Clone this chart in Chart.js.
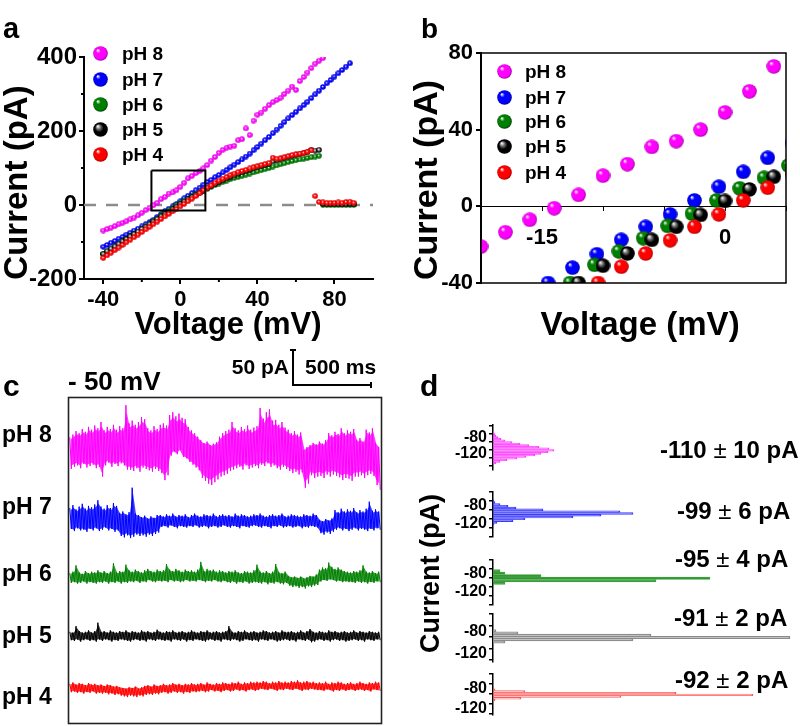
<!DOCTYPE html>
<html><head><meta charset="utf-8">
<script src="https://cdn.jsdelivr.net/npm/chart.js@4/dist/chart.umd.min.js"></script>
<style>
html,body{margin:0;padding:0;background:#fff;}
#wrap{position:relative;width:800px;height:726px;overflow:hidden;background:#fff;}
#wrap canvas{position:absolute;left:0;top:0;}
.t{position:absolute;white-space:nowrap;font-family:'Liberation Sans',Arial,Helvetica,sans-serif;font-weight:bold;color:#000;}
.t .pm{font-weight:normal;}
.sph{position:absolute;}
</style></head><body>
<div id="wrap">
<canvas id="cA" width="800" height="726"></canvas>
<canvas id="cB" width="800" height="726"></canvas>
<canvas id="cC" width="800" height="726"></canvas>
<canvas id="cD0" width="800" height="726"></canvas>
<canvas id="cD1" width="800" height="726"></canvas>
<canvas id="cD2" width="800" height="726"></canvas>
<canvas id="cD3" width="800" height="726"></canvas>
<canvas id="cD4" width="800" height="726"></canvas>
</div>
<script>
// ================= DATA =================
const phLabels = ['pH 8', 'pH 7', 'pH 6', 'pH 5', 'pH 4'];

// ---- panel a: I-V curves (mV, pA) ----
const voltsA = [-40,-38,-36,-34,-32,-30,-28,-26,-24,-22,-20,-18,-16,-14,-12,-10,-8,-6,-4,-2,0,2,4,6,8,10,12,14,16,18,20,22,24,26,28,30,32,34,36,38,40,42,44,46,48,50,52,54,56,58,60,62,64,66,68,70,72,74,76,78,80,82,84,86,88,90];
const iA_pH8 = [-69,-65,-61,-57,-52,-48,-44,-39,-34,-28,-21,-14,-7,-1,6,16,22,31,34,40,49,60,72,79,86,92,99,108,120,130,141,149,155,158,160,175,178,207,189,228,244,250,260,270,278,284,290,300,309,320,311,335,346,358,370,382,390,397];
const iA_pH7 = [-113,-108,-102,-97,-91,-86,-80,-75,-69,-64,-58,-52,-46,-40,-32,-25,-17,-10,-4,3,10,18,25,32,40,47,55,62,68,75,81,88,95,102,109,116,123,131,139,148,157,166,175,184,194,204,214,224,234,243,252,261,270,279,289,299,309,319,329,338,347,356,365,374,383];
const iA_pH6 = [-132,-126,-119,-112,-105,-98,-92,-85,-78,-72,-65,-58,-51,-44,-37,-28,-21,-14,-8,-1,5,11,17,23,29,34,39,44,49,54,58,62,66,70,73,76,79,82,85,88,91,94,97,100,104,107,110,113,116,119,121,123,125,127,129,131,133,1,0,0,0,0,0,0,1,0];
const iA_pH5 = [-132,-125,-118,-112,-105,-98,-92,-85,-79,-72,-65,-59,-52,-45,-38,-31,-25,-18,-11,-5,3,9,15,21,27,33,39,45,51,56,62,67,72,76,80,84,88,92,95,99,102,105,108,112,118,121,124,127,130,133,136,138,140,143,149,147,149,3,2,2,2,2,2,2,3,2];
const iA_pH4 = [-143,-136,-129,-122,-115,-108,-101,-94,-87,-80,-73,-66,-59,-52,-45,-38,-31,-24,-17,-11,-4,3,10,17,24,32,40,47,53,60,66,71,76,81,85,89,92,95,99,102,105,108,111,114,128,125,126,129,132,135,137,139,141,144,148,24,8,7,6,6,6,7,6,8,9,6];
const zeroLineV = [-50, 100], zeroLineI = [0, 0];
const zoomBoxV = [-15, 13, 13, -15, -15], zoomBoxI = [93, 93, -15, -15, 93];

// ---- panel b: zoom of the I-V curves ----
const bV_pH8 = [-20,-18,-16,-14,-12,-10,-8,-6,-4,-2,0,2,4];
const bI_pH8 = [-21,-13.5,-7,-1,6,16,22,31,34,40,49,60,73];
const bV_pH7 = [-14.5,-12.5,-10.5,-8.5,-6.5,-4.5,-2.5,-0.5,1.5,3.5,5.5];
const bI_pH7 = [-40,-32,-25,-17.5,-10.7,-4.2,3.1,10.2,18,25.3,33];
const bV_pH6 = [-12.7,-10.7,-8.7,-6.7,-4.7,-2.7,-0.7,1.2,3.2,5.2];
const bI_pH6 = [-40,-30.5,-23.5,-16.6,-10.2,-3.8,3.1,9.4,14.9,21.3];
const bV_pH5 = [-12,-10,-8,-6,-4,-2,0,2,4];
const bI_pH5 = [-40,-31,-24.6,-17.5,-10.7,-4.5,2.8,8.8,15.4];
const bV_pH4 = [-10.4,-8.5,-6.5,-4.5,-2.5,-0.5,1.5,3.5,5.5];
const bI_pH4 = [-40,-31.5,-24.6,-17.7,-10.7,-4.2,3.1,9.7,16.6];

// ---- panel c: current traces at -50 mV, per 20 ms bin: upper / lower excursion (pA, around the mean) ----
const traceBinMs = 20;
const c8Hi = [18,22,27,24,30,26,33,29,35,31,40,28,33,30,36,29,34,31,64,38,42,36,40,47,44,31,28,34,30,36,38,35,50,54,48,52,46,44,33,28,24,19,14,10,12,7,9,11,19,24,27,29,40,31,28,33,30,35,29,32,34,60,45,54,58,42,43,36,40,32,29,24,27,22,25,0,4,7,10,8,12,9,14,24,21,26,23,31,24,28,26,30,14,17,12,29,25,31,10,4];
const c8Lo = [-27,-24,-22,-26,-20,-25,-23,-21,-26,-24,-38,-22,-18,-24,-20,-23,-19,-22,-28,-28,-30,-26,-31,-25,-27,-29,-31,-27,-30,-33,-43,-36,-8,-2,-6,0,-10,-12,-17,-21,-25,-29,-40,-44,-48,-50,-46,-42,-38,-36,-34,-30,-28,-26,-24,-28,-22,-27,-25,-23,-26,-21,-23,-19,-24,-22,-26,-28,-24,-27,-30,-33,-31,-35,-32,-54,-48,-36,-40,-38,-37,-40,-35,-38,-35,-37,-39,-43,-40,-41,-44,-38,-38,-36,-40,-36,-34,-37,-50,-57];
const c7Hi = [20,24,18,22,26,19,23,21,25,31,22,19,24,20,27,23,13,15,11,14,49,12,10,7,9,5,8,6,10,10,8,11,9,12,8,10,9,11,7,10,12,9,8,11,10,9,12,8,10,11,9,10,8,12,9,11,10,8,9,11,10,12,9,8,10,11,9,10,12,8,9,11,10,9,8,11,10,9,12,10,3,1,4,2,5,17,14,19,15,18,16,20,14,17,15,19,29,16,18,15];
const c7Lo = [-10,-13,-9,-12,-11,-14,-10,-12,-9,-13,-11,-8,-12,-10,-14,-12,-20,-22,-19,-23,-21,-18,-20,-19,-21,-18,-20,-17,-15,-7,-6,-8,-5,-7,-9,-6,-7,-8,-6,-7,-5,-8,-7,-6,-9,-7,-6,-8,-7,-5,-7,-8,-6,-7,-9,-6,-7,-8,-6,-5,-7,-8,-6,-7,-9,-6,-7,-5,-8,-7,-6,-8,-7,-6,-9,-7,-8,-6,-7,-8,-16,-18,-15,-17,-14,-11,-9,-12,-10,-13,-11,-9,-12,-10,-11,-13,-10,-12,-9,-11];
const c6Hi = [7,9,18,8,6,10,7,9,8,11,8,10,7,9,21,8,10,9,19,11,9,12,10,8,11,13,10,9,12,10,11,20,12,10,13,11,9,12,10,11,9,12,23,10,13,11,12,9,11,10,8,10,9,11,8,7,10,9,8,11,19,9,8,10,7,9,20,8,7,9,3,1,2,0,2,-1,1,3,2,5,12,15,14,22,16,13,15,12,10,9,8,10,9,11,18,9,8,10,7,9];
const c6Lo = [-7,-6,-8,-7,-5,-8,-6,-7,-8,-6,-7,-5,-8,-6,-7,-5,-8,-6,-7,-5,-6,-4,-7,-5,-6,-3,-5,-6,-4,-5,-4,-6,-3,-5,-4,-6,-5,-3,-5,-4,-5,-3,-4,-6,-4,-5,-3,-5,-6,-4,-6,-7,-5,-8,-6,-7,-5,-8,-7,-6,-7,-8,-6,-9,-7,-8,-6,-8,-9,-7,-11,-13,-12,-14,-13,-15,-12,-13,-11,-10,-5,-3,-4,-2,-3,-5,-4,-6,-5,-6,-6,-7,-5,-7,-6,-8,-6,-7,-5,-6];
const c5Hi = [6,5,14,7,5,6,8,5,7,19,6,7,5,8,6,5,7,6,8,5,7,6,5,8,6,7,5,6,9,6,5,7,6,8,5,6,7,5,6,8,6,5,7,6,8,5,6,7,5,6,7,14,6,5,7,6,8,5,6,7,5,6,8,7,5,6,7,5,8,6,6,7,5,6,8,5,7,10,6,5,7,6,5,8,6,7,5,6,7,5,6,8,5,7,6,5,7,6,5,6];
const c5Lo = [-6,-7,-5,-8,-6,-5,-7,-6,-8,-5,-7,-5,-6,-8,-6,-7,-5,-6,-7,-8,-6,-5,-7,-6,-8,-5,-6,-7,-5,-6,-7,-6,-8,-5,-6,-7,-5,-8,-6,-7,-5,-6,-7,-8,-6,-5,-7,-6,-8,-5,-6,-7,-5,-6,-8,-7,-5,-6,-7,-6,-8,-5,-6,-7,-5,-6,-8,-7,-6,-5,-7,-6,-8,-5,-6,-7,-5,-9,-8,-6,-5,-7,-6,-8,-6,-5,-7,-6,-8,-7,-6,-5,-7,-6,-8,-5,-6,-7,-5,-6];
const c4Hi = [6,8,5,7,6,4,7,5,6,4,5,3,5,4,2,3,1,0,-1,1,0,2,-1,1,3,4,2,5,3,4,6,4,5,7,5,6,4,6,5,7,5,6,7,5,8,6,5,7,6,8,7,6,8,7,9,6,8,7,9,8,9,8,10,9,7,9,8,10,8,9,8,10,9,11,8,9,10,8,9,7,8,7,9,6,8,7,9,8,6,7,8,6,7,9,7,6,8,7,9,8];
const c4Lo = [-6,-5,-7,-6,-8,-6,-7,-5,-8,-7,-8,-7,-9,-8,-10,-9,-11,-12,-13,-11,-12,-13,-11,-12,-10,-9,-10,-8,-9,-7,-6,-8,-7,-5,-7,-6,-8,-6,-7,-5,-6,-5,-4,-6,-5,-3,-5,-4,-6,-4,-3,-5,-4,-2,-4,-3,-5,-3,-2,-4,-3,-1,-2,-3,-1,-2,-4,-2,-3,-1,-2,-3,-1,-2,-4,-2,-3,-1,-2,-3,-3,-4,-2,-3,-5,-3,-4,-2,-4,-3,-2,-4,-3,-2,-4,-3,-5,-2,-3,-4];
const traceMeans = ['-110 ± 10 pA', '-99 ± 6 pA', '-95 ± 4 pA', '-91 ± 2 pA', '-92 ± 2 pA'];

// ---- panel d: current histograms (bin centre pA, counts) ----
const hBins_pH8 = [-68,-72,-76,-80,-84,-88,-92,-96,-100,-104,-108,-112,-116,-120,-124,-128,-132,-136,-140,-144];
const hCnt_pH8  = [1,2,3,5,8,12,19,27,36,46,56,61,55,48,42,33,24,14,7,3];
const hBins_pH7 = [-70,-74,-78,-82,-86,-90,-94,-98,-102,-106,-110,-114,-118,-122];
const hCnt_pH7  = [1,2,7,15,23,50,127,140,108,80,32,20,4,1];
const hBins_pH6 = [-74,-79.5,-85,-90.5,-96,-101.5];
const hCnt_pH6  = [7,12,48,217,163,12];
const hBins_pH5 = [-79,-83,-87,-91,-95,-99];
const hCnt_pH5  = [3,25,158,297,140,12];
const hBins_pH4 = [-81.5,-85,-88.5,-92,-95.5,-99,-102.5];
const hCnt_pH4  = [2,32,183,260,128,28,2];

// ================= STYLE =================
const FONT = "'Liberation Sans', Arial, Helvetica, sans-serif";
Chart.defaults.font.family = FONT;
Chart.defaults.font.weight = 'bold';
Chart.defaults.color = '#000';
Chart.defaults.animation = false;

const phColors = ['#ff00ff', '#0000ff', '#008000', '#000000', '#ff0000'];
const phDark   = ['#a000a0', '#00009a', '#003c00', '#000000', '#a00000'];
const phFill   = ['rgba(255,0,255,0.8)', 'rgba(0,0,255,0.75)', 'rgba(0,128,0,0.75)', 'rgba(0,0,0,0.75)', 'rgba(255,0,0,0.75)'];
const histFill = ['rgba(255,0,255,0.42)', 'rgba(40,40,255,0.55)', 'rgba(0,140,0,0.42)', 'rgba(190,190,190,0.3)', 'rgba(255,60,60,0.18)'];
const histLine = ['#ff44ff', '#3a3aff', '#44a044', '#8a8a8a', '#ff5a5a'];

function sphere(k, d, small) {
  const c = document.createElement('canvas');
  c.width = d; c.height = d;
  const x = c.getContext('2d');
  const r = d / 2;
  const g = small ? x.createRadialGradient(r * 0.85, r * 0.8, 0, r, r, r)
                  : x.createRadialGradient(r * 0.62, r * 0.55, r * 0.04, r, r, r);
  const col = phColors[k];
  g.addColorStop(0, '#ffffff');
  if (k === 3) { g.addColorStop(small ? 0.4 : 0.25, '#777777'); g.addColorStop(small ? 0.75 : 0.55, '#000000'); g.addColorStop(1, '#000000'); }
  else { g.addColorStop(small ? 0.45 : 0.28, col); g.addColorStop(0.78, col); g.addColorStop(1, phDark[k]); }
  x.fillStyle = g;
  x.beginPath(); x.arc(r, r, r - 0.2, 0, Math.PI * 2); x.fill();
  return c;
}

const axisExtras = {
  id: 'axisExtras',
  afterDraw(chart, args, o) {
    const ctx = chart.ctx;
    (o.minor || []).forEach(m => {
      const s = chart.scales[m.axis];
      ctx.save(); ctx.strokeStyle = '#000'; ctx.lineWidth = m.width || 2;
      m.values.forEach(v => {
        const p = s.getPixelForValue(v);
        ctx.beginPath();
        if (s.isHorizontal()) { ctx.moveTo(p, s.top); ctx.lineTo(p, s.top + m.len); }
        else { ctx.moveTo(s.right, p); ctx.lineTo(s.right - m.len, p); }
        ctx.stroke();
      });
      ctx.restore();
    });
    if (o.frame) {
      const a = chart.chartArea, f = o.frame.inflate || 0;
      ctx.save(); ctx.strokeStyle = o.frame.color; ctx.lineWidth = o.frame.width;
      ctx.strokeRect(a.left - f, a.top - f, a.right - a.left + 2 * f, a.bottom - a.top + 2 * f);
      ctx.restore();
    }
    if (o.scaleBar) {
      const b = o.scaleBar, xs = chart.scales.x, ys = chart.scales[b.yAxis];
      const lx = xs.getPixelForValue(b.ms) - xs.getPixelForValue(0);
      const ly = ys.getPixelForValue(0) - ys.getPixelForValue(b.pA);
      ctx.save(); ctx.strokeStyle = '#000'; ctx.lineWidth = 2;
      ctx.beginPath();
      ctx.moveTo(b.x, b.y - ly); ctx.lineTo(b.x, b.y); ctx.lineTo(b.x + lx, b.y);
      ctx.moveTo(b.x - 3, b.y - ly); ctx.lineTo(b.x + 3, b.y - ly);
      ctx.moveTo(b.x + lx, b.y - 3); ctx.lineTo(b.x + lx, b.y + 3);
      ctx.stroke(); ctx.restore();
    }
  }
};

const W = 800, H = 726;
const noInteract = { legend: { display: false }, tooltip: { enabled: false } };
function tickFont(size) { return { size: size, weight: 'bold', family: FONT }; }

// ================= PANEL A =================
const seriesA = [iA_pH8, iA_pH7, iA_pH6, iA_pH5, iA_pH4];
const dsA = seriesA.map((arr, k) => ({
  label: phLabels[k],
  data: arr.map((v, i) => ({ x: voltsA[i], y: v })),
  pointStyle: sphere(k, 6, true), pointRadius: 3, showLine: false, order: 4 - k
}));
dsA.push({ label: 'zero', data: zeroLineV.map((v, i) => ({ x: v, y: zeroLineI[i] })), showLine: true, pointRadius: 0,
  borderColor: '#8c8c8c', borderWidth: 2.5, borderDash: [12, 10], order: 10 });
dsA.push({ label: 'box', data: zoomBoxV.map((v, i) => ({ x: v, y: zoomBoxI[i] })), showLine: true, pointRadius: 0,
  borderColor: '#000', borderWidth: 2, order: -1 });

new Chart(document.getElementById('cA'), {
  type: 'scatter',
  data: { datasets: dsA },
  options: {
    responsive: false, animation: false, events: [],
    layout: { padding: { left: 24, right: W - 373, top: 57, bottom: H - 279 - 45 } },
    plugins: Object.assign({}, noInteract, { axisExtras: { minor: [
      { axis: 'x', values: [-20, 20, 60], len: 3 }, { axis: 'y', values: [-100, 100, 300], len: 3 } ] } }),
    scales: {
      x: { type: 'linear', min: -50, max: 100, afterFit(s) { s.height = 45; },
        ticks: { stepSize: 40, includeBounds: false, autoSkip: false, maxRotation: 0, font: tickFont(22), padding: 3 },
        grid: { drawOnChartArea: false, drawTicks: true, tickLength: 5, color: '#000', lineWidth: 2 },
        border: { display: true, color: '#000', width: 2 } },
      y: { type: 'linear', min: -200, max: 400, afterFit(s) { s.width = 60; },
        ticks: { stepSize: 200, autoSkip: false, font: tickFont(24), padding: 2 },
        grid: { drawOnChartArea: false, drawTicks: true, tickLength: 5, color: '#000', lineWidth: 2 },
        border: { display: true, color: '#000', width: 2 } }
    }
  },
  plugins: [axisExtras]
});

// ================= PANEL B =================
const bV = [bV_pH8, bV_pH7, bV_pH6, bV_pH5, bV_pH4];
const bI = [bI_pH8, bI_pH7, bI_pH6, bI_pH5, bI_pH4];
const dsB = bV.map((vs, k) => ({
  label: phLabels[k],
  data: vs.map((v, i) => ({ x: v, y: bI[k][i] })),
  pointStyle: sphere(k, 15, false), pointRadius: 7.5, showLine: false, order: 4 - k
}));
new Chart(document.getElementById('cB'), {
  type: 'scatter',
  data: { datasets: dsB },
  options: {
    responsive: false, animation: false, events: [],
    layout: { padding: { left: 481 - 60, right: W - 787, top: 53, bottom: H - 283 } },
    plugins: Object.assign({}, noInteract, { axisExtras: { frame: { color: '#000', width: 1.5 } } }),
    scales: {
      x: { type: 'linear', min: -20, max: 5, position: { y: 0 },
        ticks: { stepSize: 5, includeBounds: false, autoSkip: false, maxRotation: 0, font: tickFont(22), padding: 14,
          callback: v => (v === -15 || v === 0) ? String(v) : '' },
        grid: { drawOnChartArea: false, drawTicks: true, tickLength: 4, color: '#000', lineWidth: 1 },
        border: { display: true, color: '#000', width: 1 } },
      y: { type: 'linear', min: -40, max: 80, afterFit(s) { s.width = 60; },
        ticks: { stepSize: 40, autoSkip: false, font: tickFont(22), padding: 3 },
        grid: { drawOnChartArea: false, drawTicks: true, tickLength: 5, color: '#000', lineWidth: 2 },
        border: { display: true, color: '#000', width: 2 } }
    }
  },
  plugins: [axisExtras]
});

// ================= PANEL C =================
const traceHi = [c8Hi, c7Hi, c6Hi, c5Hi, c4Hi];
const traceLo = [c8Lo, c7Lo, c6Lo, c5Lo, c4Lo];
const cTop = 398, cBottom = 723, pxPerPA = 0.7;
const traceCentrePx = [450, 522, 578, 636, 688];
const cScales = { x: { type: 'linear', min: 0, max: 2000, display: false } };
traceCentrePx.forEach((p, k) => {
  const max = (p - cTop) / pxPerPA;
  cScales['y' + k] = { type: 'linear', display: false, min: max - (cBottom - cTop) / pxPerPA, max: max };
});
const dsC = [];
traceHi.forEach((hi, k) => {
  const lo = traceLo[k];
  // noisy trace: alternating upper / lower excursion of each bin
  const zig = [];
  hi.forEach((v, i) => { zig.push({ x: i * traceBinMs + traceBinMs * 0.25, y: v }); zig.push({ x: i * traceBinMs + traceBinMs * 0.75, y: lo[i] }); });
  dsC.push({ label: phLabels[k], data: zig, yAxisID: 'y' + k, borderColor: phColors[k], borderWidth: 1,
    pointRadius: 0, tension: 0, fill: false });
  // dense core of the trace: band between the envelopes
  dsC.push({ label: phLabels[k] + ' upper', data: hi.map((v, i) => ({ x: i * traceBinMs + traceBinMs / 2, y: v * 0.85 })),
    yAxisID: 'y' + k, borderWidth: 0, backgroundColor: phFill[k], pointRadius: 0, tension: 0, fill: '+1' });
  dsC.push({ label: phLabels[k] + ' lower', data: lo.map((v, i) => ({ x: i * traceBinMs + traceBinMs / 2, y: v * 0.85 })),
    yAxisID: 'y' + k, borderWidth: 0, pointRadius: 0, tension: 0, fill: false });
});
new Chart(document.getElementById('cC'), {
  type: 'line',
  data: { datasets: dsC },
  options: {
    responsive: false, animation: false, events: [],
    layout: { padding: { left: 69, right: W - 381, top: cTop, bottom: H - cBottom } },
    plugins: Object.assign({}, noInteract, { filler: { propagate: false }, axisExtras: {
      frame: { color: '#222', width: 1.6, inflate: 0.5 },
      scaleBar: { x: 293, y: 385, ms: 500, pA: 50, yAxis: 'y0' } } }),
    scales: cScales
  },
  plugins: [axisExtras]
});

// ================= PANEL D =================
const hBins = [hBins_pH8, hBins_pH7, hBins_pH6, hBins_pH5, hBins_pH4];
const hCnt  = [hCnt_pH8, hCnt_pH7, hCnt_pH6, hCnt_pH5, hCnt_pH4];
const hAxes = [ { top: 425, bottom: 470, min: -150, max: -60 },
                { top: 491.7, bottom: 537, min: -140, max: -60 },
                { top: 560, bottom: 605, min: -140, max: -60 },
                { top: 613.3, bottom: 661.7, min: -123, max: -59 },
                { top: 673.3, bottom: 719.3, min: -121, max: -59 } ];
hBins.forEach((bins, k) => {
  const ax = hAxes[k];
  new Chart(document.getElementById('cD' + k), {
    type: 'bar',
    data: { datasets: [{ label: phLabels[k], data: bins.map((b, i) => ({ x: hCnt[k][i], y: b })),
      backgroundColor: histFill[k], borderColor: histLine[k], borderWidth: 1,
      barPercentage: 1, categoryPercentage: 1 }] },
    options: {
      indexAxis: 'y', responsive: false, animation: false, events: [],
      layout: { padding: { left: 493 - 60, right: W - 793, top: ax.top, bottom: H - ax.bottom } },
      plugins: noInteract,
      scales: {
        x: { type: 'linear', min: 0, max: 300, display: false },
        y: { type: 'linear', min: ax.min, max: ax.max, afterFit(s) { s.width = 60; },
          ticks: { stepSize: 20, includeBounds: false, autoSkip: false, font: tickFont(16), padding: 2,
            callback: v => (v === -80 || v === -120) ? String(v) : '' },
          grid: { drawOnChartArea: false, drawTicks: true, tickLength: 4, color: '#000', lineWidth: 1.5 },
          border: { display: true, color: '#000', width: 1.5 } }
      }
    }
  });
});

// ================= TEXT =================
const wrap = document.getElementById('wrap');
function txt(s, x, yc, size, align, lower) {
  const d = document.createElement('div');
  d.className = 't'; d.innerHTML = s;
  d.style.fontSize = size + 'px'; d.style.lineHeight = size + 'px';
  d.style.top = (yc - (lower ? 0.5865 : 0.49) * size) + 'px';
  if (align === 'right') d.style.right = (W - x) + 'px';
  else if (align === 'center') { d.style.left = (x - 300) + 'px'; d.style.width = '600px'; d.style.textAlign = 'center'; }
  else d.style.left = x + 'px';
  wrap.appendChild(d);
}
function vtxt(s, xc, yc, size) {
  const d = document.createElement('div');
  d.className = 't'; d.textContent = s;
  d.style.fontSize = size + 'px'; d.style.lineHeight = size + 'px';
  d.style.width = '400px'; d.style.textAlign = 'center';
  const cx = xc - 0.0865 * size;
  d.style.left = (cx - 200) + 'px'; d.style.top = (yc - size / 2) + 'px';
  d.style.transform = 'rotate(-90deg)'; d.style.transformOrigin = '50% 50%';
  wrap.appendChild(d);
}
function legend(cx, ys, tx, size, d) {
  ys.forEach((y, k) => {
    const im = document.createElement('img');
    im.className = 'sph'; im.src = sphere(k, d, false).toDataURL();
    im.style.left = (cx - d / 2) + 'px'; im.style.top = (y - d / 2) + 'px';
    wrap.appendChild(im);
    txt(phLabels[k], tx, y, size);
  });
}
// panel letters
txt('a', 3, 31, 29, null, true);
txt('b', 421, 28.5, 28);
txt('c', 3, 388.5, 30, null, true);
txt('d', 420, 386, 30);
// panel a
vtxt('Current (pA)', 18, 182, 33);
txt('Voltage (mV)', 228, 323, 31, 'center');
legend(100, [53, 79, 104, 129, 154], 122, 19, 15);
// panel b
vtxt('Current (pA)', 428, 180, 34);
txt('Voltage (mV)', 640, 323.5, 33, 'center');
legend(504, [71, 97, 121, 146, 172], 525, 19, 15);
// panel c
txt('- 50 mV', 68, 381, 26);
txt('50 pA', 289, 366.5, 21, 'right');
txt('500 ms', 305, 366.5, 21);
[434.3, 505.8, 573.7, 635.6, 696.7].forEach((y, k) => txt(phLabels[k], 2, y, 23));
// panel d
vtxt('Current (pA)', 432, 573, 27);
const meanX = [660, 677, 675, 674, 675], meanY = [450, 511, 559, 618, 679.7];
traceMeans.forEach((s, k) => txt(s.replace('±', '<span class="pm">±</span>'), meanX[k], meanY[k], 24));
</script>
</body></html>
